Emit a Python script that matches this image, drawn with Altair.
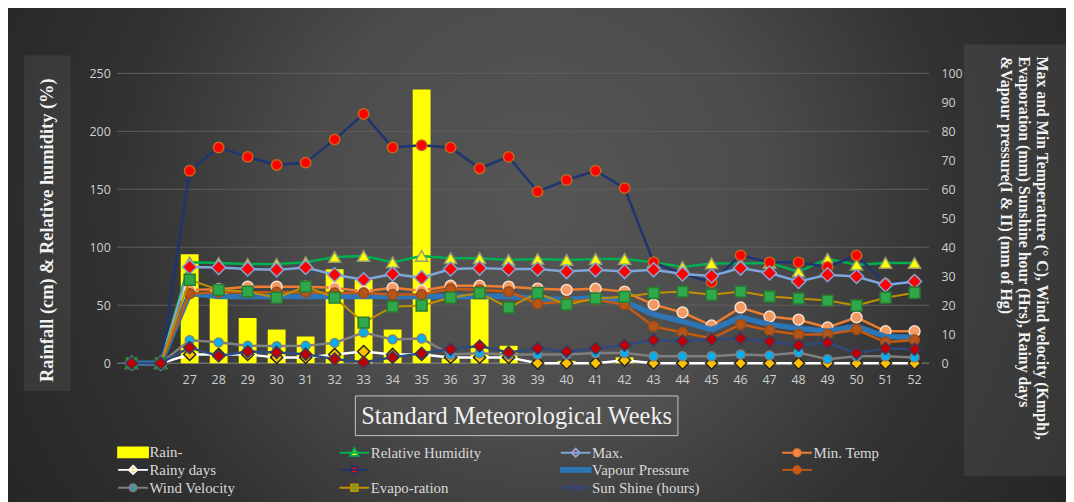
import altair as alt
import pandas as pd

# ---------------- data ----------------
weeks = ["", " "] + [str(w) for w in range(27, 53)]

rain = [0, 0, 94, 63, 39, 29, 23, 81, 72, 29, 236, 4, 56, 15, 0, 2, 0, 5,
        0, 0, 0, 0, 0, 0, 0, 0, 0, 0]
rel_humidity = [0, 0, 87, 86.5, 85.6, 85.6, 87, 91.6, 92.5, 87, 92.5, 90.6, 90.6, 89,
                89.9, 89, 89.9, 89.9, 87, 83, 86, 86, 86.5, 79, 90, 85, 86.5, 86.5]
unnamed_navy = [0, 0, 166, 186, 178, 171, 173, 193, 215, 186, 188, 186, 168, 178,
                148, 158, 166, 151, 87, 77, 70, 93, 87, 87, 83, 93, 68.5, 71]

max_temp = [0, 0, 33.2, 33, 32.5, 32.2, 33, 30.5, 28.8, 30.8, 29.5, 32.5, 32.8, 32.5,
            32.5, 31.6, 32.2, 31.6, 32.2, 30.8, 30.1, 32.8, 31.1, 28.2, 30.5, 29.9, 27, 28.2]
min_temp = [0, 0, 25.3, 25.5, 26.4, 26.4, 26.4, 26, 24.7, 26, 25, 26.7, 26.7, 26.4,
            25.7, 25.3, 25.7, 24.7, 20.2, 17.5, 13, 19.2, 16.1, 15, 12.3, 15.8, 11, 11]
rainy_days = [0, 0, 3, 3, 3, 2, 2, 3, 4, 3, 3, 2, 2, 2, 0, 0, 0, 1,
              0, 0, 0, 0, 0, 0, 0, 0, 0, 0]
vapour_pressure = [0, 0, 24, 23, 23, 23, 23, 23, 23, 23, 23, 23, 23, 23,
                   22.3, 22, 22.6, 21.3, 16.8, 14.4, 11.6, 15.8, 13.4, 12, 11, 12.7, 9.2, 8.9]
unnamed_brown = [0, 0, 24, 24.5, 24.5, 24.5, 24.5, 24.2, 24.2, 23.7, 23.7, 25.7, 25.3, 24.7,
                 20.5, 21.3, 21.9, 20.2, 12.7, 10.6, 8.5, 13.4, 11.3, 9.9, 9.9, 11.6, 7.2, 8]
wind_velocity = [0, 0, 7.9, 7.2, 6, 5.9, 6, 7, 10.6, 8.2, 8.5, 3, 3.4, 3,
                 3, 3, 3.5, 3.5, 2.4, 2.4, 2.4, 3, 2.7, 3.7, 1.4, 2.4, 2.4, 2]
evaporation = [0, 0, 28.8, 25.3, 24.7, 22.6, 26.4, 22.6, 14, 19.5, 19.9, 22.6, 24.2, 19.2,
               24.2, 20.2, 22.3, 22.9, 24.2, 24.7, 23.6, 24.7, 23, 22.3, 21.6, 19.9, 22.6, 24.3]
sunshine = [0, 0, 5.4, 2.5, 4, 3.7, 3.1, 1.4, 0.3, 2, 3.4, 4.8, 5.9, 3.7,
            5.1, 4, 5.1, 6.2, 8, 7.6, 8.2, 8.5, 7.5, 6.2, 7.1, 3.4, 5.1, 4.8]

left_ticks = [0, 50, 100, 150, 200, 250]
right_ticks = list(range(0, 101, 10))

# legend entries, listed column by column (4 columns x 3 rows)
legend_names = ["Rain-", "Rainy days", "Wind Velocity",
                "Relative Humidity", " ", "Evapo-ration",
                "Max.", "Vapour Pressure", "Sun Shine (hours)",
                "Min. Temp", "  "]

left_title = "Rainfall (cm) & Relative humidity (%)"
right_title = ["Max and Min Temperature (\u00b0 C), Wind velocity (Kmph),",
               "Evaporation (mm)  Sunshine hour (Hrs), Rainy days",
               "&Vapour pressure(I & II) (mm of Hg)"]
x_title = "Standard Meteorological Weeks"

# ---------------- tables ----------------
def long(series):
    rows = []
    for name, vals in series:
        for w, v in zip(weeks, vals):
            rows.append({"week": w, "series": name, "value": v})
    return pd.DataFrame(rows)

left_df = long([("Rain-", rain), ("Relative Humidity", rel_humidity), (" ", unnamed_navy)])
right_df = long([("Max.", max_temp), ("Min. Temp", min_temp), ("Rainy days", rainy_days),
                 ("Vapour Pressure", vapour_pressure), ("  ", unnamed_brown),
                 ("Wind Velocity", wind_velocity), ("Evapo-ration", evaporation),
                 ("Sun Shine (hours)", sunshine)])
grid_df = pd.DataFrame({"value": left_ticks})
one = pd.DataFrame({"k": [1]})

# ---------------- styling ----------------
SANS = "Open Sans"
SERIF = "Liberation Serif"
LEGFONT = "Times New Roman, Liberation Serif, serif"
LBL = "#cfcfcf"

x_enc = alt.X("week:N", scale=alt.Scale(domain=weeks, paddingInner=0, paddingOuter=0),
              axis=alt.Axis(title=None, labelAngle=0, domain=False, ticks=False, grid=False,
                            zindex=1, labelPadding=10, labelFont=SANS, labelFontSize=12.5,
                            labelColor=LBL))

yl = alt.Y("value:Q", scale=alt.Scale(domain=[0, 250], nice=False),
           axis=alt.Axis(title=None, values=left_ticks, domain=False, ticks=False, grid=False,
                         zindex=1, labelPadding=7, labelFont=SANS, labelFontSize=12.5,
                         labelColor=LBL))
yr = alt.Y("value:Q", scale=alt.Scale(domain=[0, 100], nice=False),
           axis=alt.Axis(title=None, orient="right", values=right_ticks, domain=False,
                         ticks=False, grid=False, zindex=1, labelPadding=12, labelFont=SANS,
                         labelFontSize=12.5, labelColor=LBL))

# name: (line colour, line width, shape, size, fill, stroke)
style = {
    "Relative Humidity": ("#00b050", 2.5, "triangle-up", 150, "#ffff00", "#9a9a70"),
    " ": ("#1f3470", 2.5, "circle", 110, "#ff0000", "#c8651a"),
    "Max.": ("#7fa6d8", 2.5, "diamond", 200, "#ff0000", "#7fa6d8"),
    "Min. Temp": ("#ed7d31", 2.5, "circle", 120, "#f39a64", "#fbe0cc"),
    "Rainy days": ("#ffffff", 2.5, "diamond", 150, "#ffc000", "#262626"),
    "Vapour Pressure": ("#2e75b6", 5.5, None, 0, None, None),
    "  ": ("#c55a11", 2.5, "circle", 100, "#b4561a", "#a04a12"),
    "Wind Velocity": ("#7f7f7f", 2.5, "circle", 80, "#00b0f0", "#7f7f7f"),
    "Evapo-ration": ("#bf9000", 2, "square", 120, "#2ea84a", "#2a7a30"),
    "Sun Shine (hours)": ("#2f4a7c", 2.5, "diamond", 150, "#c00000", "#3a3a60"),
}


def series_layers(df, y, name):
    lc, lw, shape, size, fill, stroke = style[name]
    base = alt.Chart(df).transform_filter(alt.datum.series == name)
    out = [base.mark_line(color=lc, strokeWidth=lw).encode(x=x_enc, y=y)]
    if shape:
        out.append(base.mark_point(shape=shape, size=size, filled=True, fill=fill, stroke=stroke,
                                   strokeWidth=1.5, opacity=1).encode(x=x_enc, y=y))
    return out


# ---------------- decoration ----------------
bg = alt.Chart(one).mark_rect(fill={
    "gradient": "radial", "x1": 0.5, "y1": 0.45, "x2": 0.5, "y2": 0.45, "r1": 0, "r2": 0.72,
    "stops": [{"offset": 0, "color": "#565656"}, {"offset": 0.3, "color": "#4c4c4c"},
              {"offset": 0.55, "color": "#323232"}, {"offset": 1, "color": "#1c1c1c"}]
}).encode(x=alt.value(-110), x2=alt.value(956), y=alt.value(-264), y2=alt.value(630))

lbox = alt.Chart(one).mark_rect(fill="#ffffff", opacity=0.07).encode(
    x=alt.value(-94), x2=alt.value(-47), y=alt.value(-18), y2=alt.value(320))
ltext = alt.Chart(one).mark_text(angle=270, font=SERIF, fontWeight="bold", fontSize=18.5,
                                 color="#f2f2f2", align="center", baseline="middle").encode(
    x=alt.value(-71), y=alt.value(158), text=alt.value(left_title))
rbox = alt.Chart(one).mark_rect(fill="#ffffff", opacity=0.07).encode(
    x=alt.value(853), x2=alt.value(960), y=alt.value(-29), y2=alt.value(406))
rtext = alt.Chart(one).mark_text(angle=90, font=SERIF, fontWeight="bold", fontSize=16,
                                 lineHeight=18, color="#f2f2f2", align="left",
                                 baseline="top").encode(
    x=alt.value(940), y=alt.value(-17), text=alt.value(right_title))
xbox = alt.Chart(one).mark_rect(fill="#ffffff", fillOpacity=0.03, stroke="#c4c4c4",
                                strokeWidth=1).encode(
    x=alt.value(240), x2=alt.value(565), y=alt.value(325), y2=alt.value(365))
xtext = alt.Chart(one).mark_text(font=SERIF, fontSize=24.5, color="#f0f0f0", align="center",
                                 baseline="middle").encode(
    x=alt.value(402.5), y=alt.value(346), text=alt.value(x_title))

# ---------------- data layers ----------------
grid = alt.Chart(grid_df).mark_rule(strokeWidth=1).encode(
    y=yl, x=alt.value(0), x2=alt.value(818),
    color=alt.condition(alt.datum.value == 0, alt.value("#8a8a8a"), alt.value("#5e5e5e")))

bars = alt.Chart(left_df).transform_filter(alt.datum.series == "Rain-").mark_bar(
    color="#ffff00", width=18).encode(x=x_enc, y=yl)

left = alt.layer(grid, bars, *series_layers(left_df, yl, "Relative Humidity"),
                 *series_layers(left_df, yl, " "))

# legend symbols: short line with marker (path units: 1 = 7.5 px)
line_mk = "M-2,0H2"
paths = {
    "rect": "M-2,-0.65H2V0.65H-2Z",
    "thick": "M-2,-0.25H2V0.25H-2Z",
    "diamond": line_mk + "M0,-0.55L0.55,0L0,0.55L-0.55,0Z",
    "circle": line_mk + "M0.48,0A0.48,0.48,0,1,1,-0.48,0A0.48,0.48,0,1,1,0.48,0Z",
    "triangle": line_mk + "M0,-0.6L0.56,0.42L-0.56,0.42Z",
    "square": line_mk + "M-0.44,-0.44H0.44V0.44H-0.44Z",
}
shape_of = {"Rain-": "rect", "Relative Humidity": "triangle", "Max.": "diamond",
            "Min. Temp": "circle", "Rainy days": "diamond", " ": "circle",
            "Vapour Pressure": "thick", "  ": "circle", "Wind Velocity": "circle",
            "Evapo-ration": "square", "Sun Shine (hours)": "diamond"}
fill_of = {"Rain-": "#ffff00", "Relative Humidity": "#ffff00", "Max.": "#ff0000",
           "Min. Temp": "#f39a64", "Rainy days": "#ffc000", " ": "#ff0000",
           "Vapour Pressure": "#2e75b6", "  ": "#c55a11", "Wind Velocity": "#00b0f0",
           "Evapo-ration": "#2ea84a", "Sun Shine (hours)": "#c00000"}
stroke_of = {"Rain-": "#ffff00", "Relative Humidity": "#00b050", "Max.": "#7fa6d8",
             "Min. Temp": "#ed7d31", "Rainy days": "#ffffff", " ": "#1f3470",
             "Vapour Pressure": "#2e75b6", "  ": "#c55a11", "Wind Velocity": "#7f7f7f",
             "Evapo-ration": "#bf9000", "Sun Shine (hours)": "#2f4a7c"}

leg = alt.Legend(title=None, orient="none", legendX=7.5, legendY=373, columns=4,
                 columnPadding=75, rowPadding=0, gridAlign="all", labelFont=LEGFONT,
                 labelFontSize=15, labelFontWeight="normal", labelFontStyle="normal",
                 labelColor="#d9d9d9", labelOffset=8, labelLimit=400,
                 symbolSize=225, symbolStrokeWidth=2)
legend_layer = alt.Chart(right_df).transform_filter("false").mark_point(
    filled=True, opacity=1, strokeWidth=2).encode(
    x=x_enc, y=yr,
    fill=alt.Fill("series:N", scale=alt.Scale(domain=legend_names,
                                              range=[fill_of[n] for n in legend_names]),
                  legend=leg),
    stroke=alt.Stroke("series:N", scale=alt.Scale(domain=legend_names,
                                                  range=[stroke_of[n] for n in legend_names]),
                      legend=leg),
    shape=alt.Shape("series:N", scale=alt.Scale(domain=legend_names,
                                                range=[paths[shape_of[n]] for n in legend_names]),
                    legend=leg),
)

right_layers = []
for nm in ["Max.", "Min. Temp", "Rainy days", "Vapour Pressure", "  ", "Wind Velocity",
           "Evapo-ration", "Sun Shine (hours)"]:
    right_layers += series_layers(right_df, yr, nm)
right = alt.layer(*right_layers, legend_layer)

chart = alt.layer(bg, lbox, ltext, rbox, rtext, xbox, xtext, left, right).resolve_scale(
    y="independent"
).properties(
    width=818, height=292,
    autosize=alt.AutoSizeParams(type="none"),
    padding={"left": 110, "top": 64, "right": 138, "bottom": 138},
).configure(background="#303030", font=SERIF).configure_view(stroke=None).configure_legend(
    labelFont=LEGFONT, labelFontSize=15, labelColor="#d9d9d9", labelOffset=8,
    rowPadding=0, columnPadding=75, labelLimit=400, symbolStrokeWidth=2,
)

chart.save("out.html", embed_options={"renderer": "svg", "actions": False})
